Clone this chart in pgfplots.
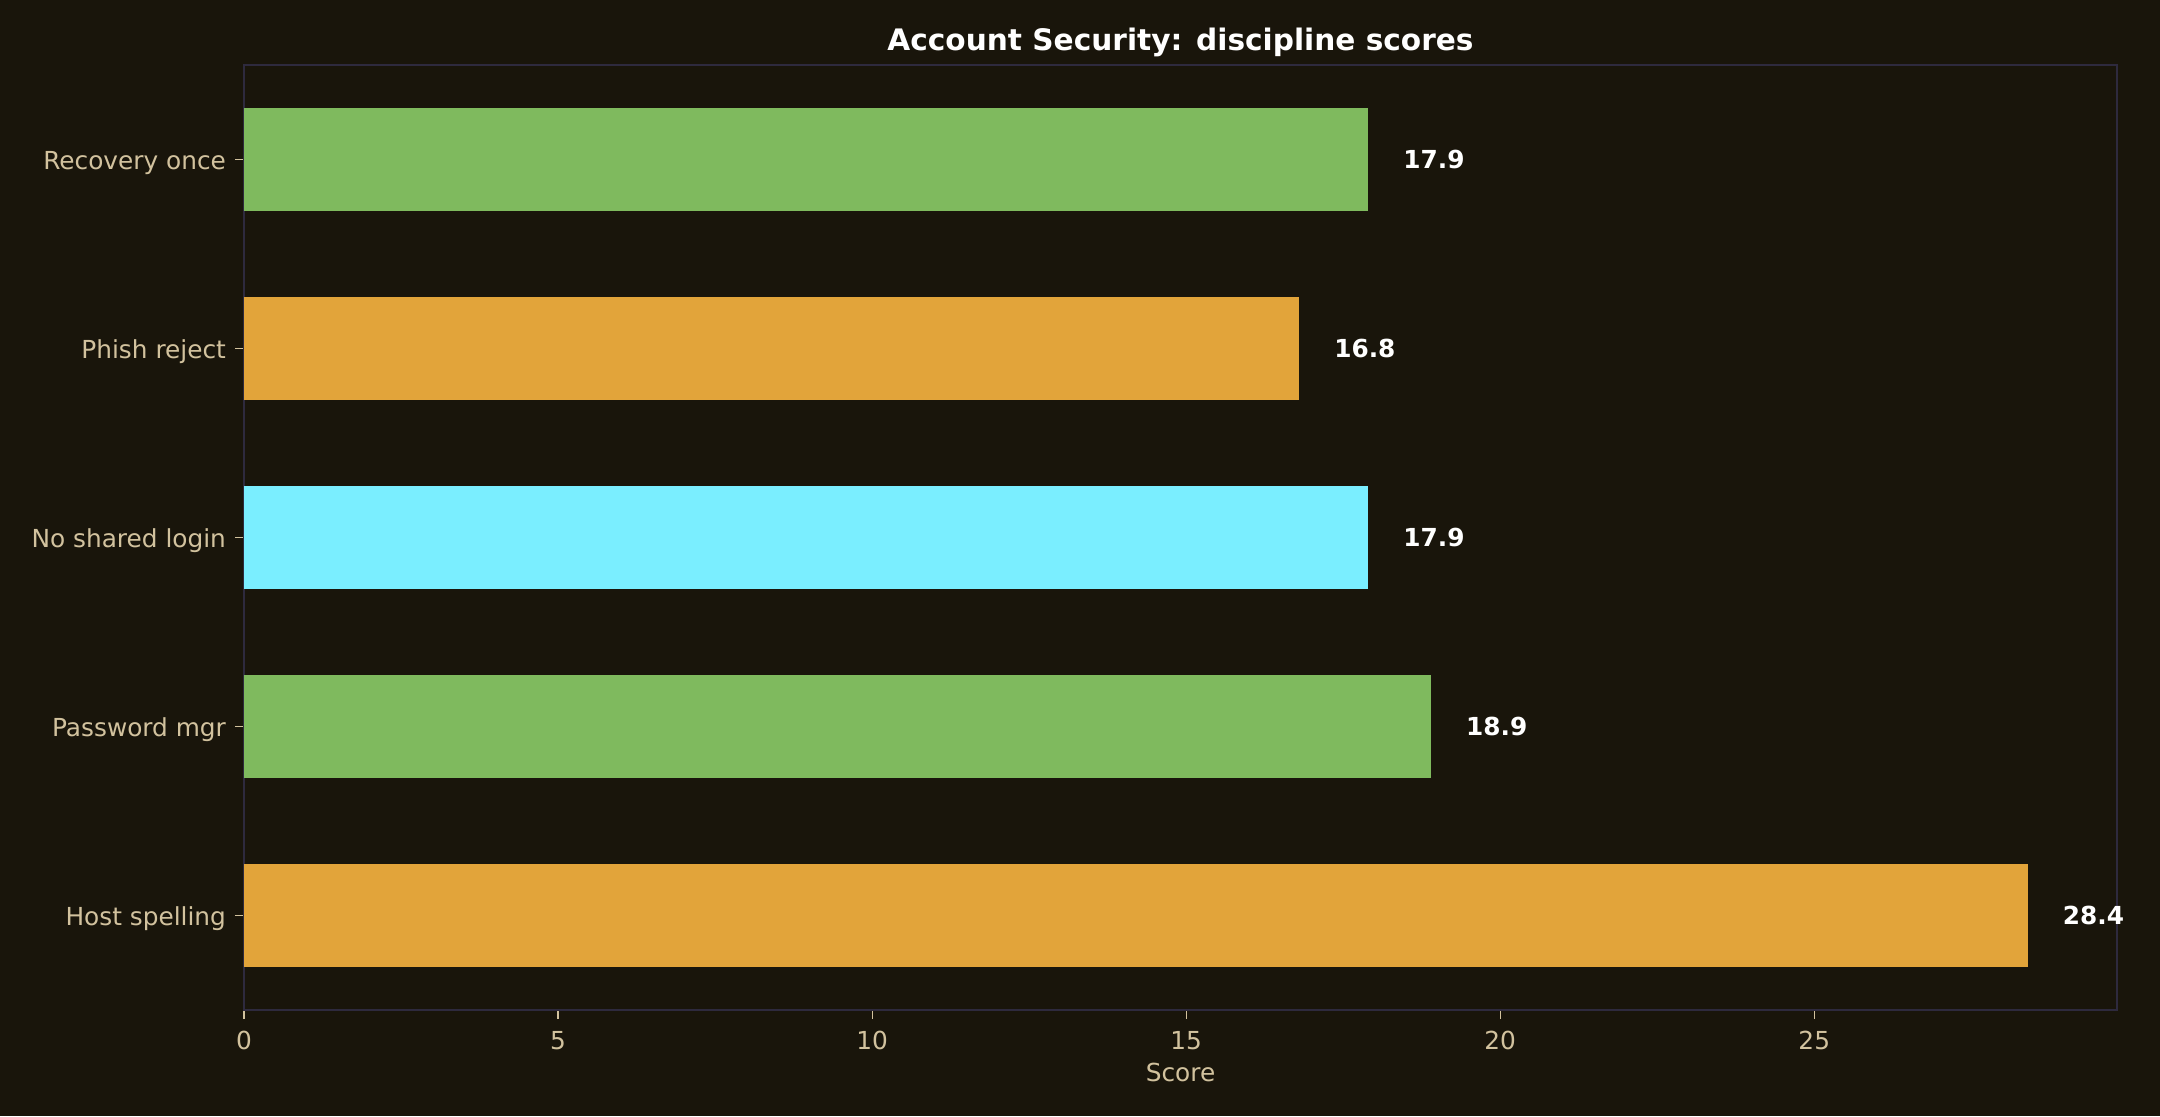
\documentclass[border=0pt]{standalone}
\usepackage{pgfplots}
\pgfplotsset{compat=1.18}
\usepackage{fontspec}
\setmainfont{DejaVu Sans}

\definecolor{bg}{HTML}{19150B}
\definecolor{frame}{HTML}{2E2A3E}
\definecolor{tan}{HTML}{D2C29E}
\definecolor{cgreen}{HTML}{7FBA5E}
\definecolor{corange}{HTML}{E2A43A}
\definecolor{ccyan}{HTML}{7AEEFF}

\begin{document}
\begin{tikzpicture}
  % page = 2160x1116 px at 0.5pt per px; axis box origin at (244,1010) px
  \fill[bg] (-122pt,-53pt) rectangle (958pt,505pt);
  \useasboundingbox (-122pt,-53pt) rectangle (958pt,505pt);
  \begin{axis}[
      at={(0,0)}, anchor=south west,
      scale only axis,
      width=936.5pt, height=472.5pt,
      xbar, bar shift=0pt, bar width=0.55,
      xmin=0, xmax=29.82,
      ymin=-0.5, ymax=4.5,
      xtick={0,5,...,25},
      ytick={0,1,2,3,4},
      yticklabels={Host spelling, Password mgr, No shared login, Phish reject, Recovery once},
      tick align=outside,
      xtick pos=bottom, ytick pos=left,
      major tick length=4.5pt,
      tick style={tan, line width=0.6pt},
      axis line style={frame, line width=0.8pt},
      ticklabel style={font=\fontsize{12.4}{14}\selectfont, text=tan},
      /pgf/number format/assume math mode=true,
      xticklabel style={yshift=-2.5pt},
      yticklabel style={xshift=-1pt, yshift=-1.8pt},
      xlabel={Score},
      xlabel style={font=\fontsize{12.4}{14}\selectfont, text=tan, yshift=0pt},
      title={Account Security: discipline scores},
      title style={font=\bfseries\fontsize{14.8}{17}\selectfont, text=white, yshift=-5.5pt},
      nodes near coords,
      nodes near coords style={font=\bfseries\fontsize{12.4}{14}\selectfont, text=white,
        anchor=west, xshift=14pt,
        /pgf/number format/.cd, fixed, fixed zerofill, precision=1, assume math mode=true},
    ]
    \addplot[draw=none, fill=corange] coordinates {(28.4,0)};
    \addplot[draw=none, fill=cgreen] coordinates {(18.9,1)};
    \addplot[draw=none, fill=ccyan] coordinates {(17.9,2)};
    \addplot[draw=none, fill=corange] coordinates {(16.8,3)};
    \addplot[draw=none, fill=cgreen] coordinates {(17.9,4)};
  \end{axis}
\end{tikzpicture}
\end{document}
